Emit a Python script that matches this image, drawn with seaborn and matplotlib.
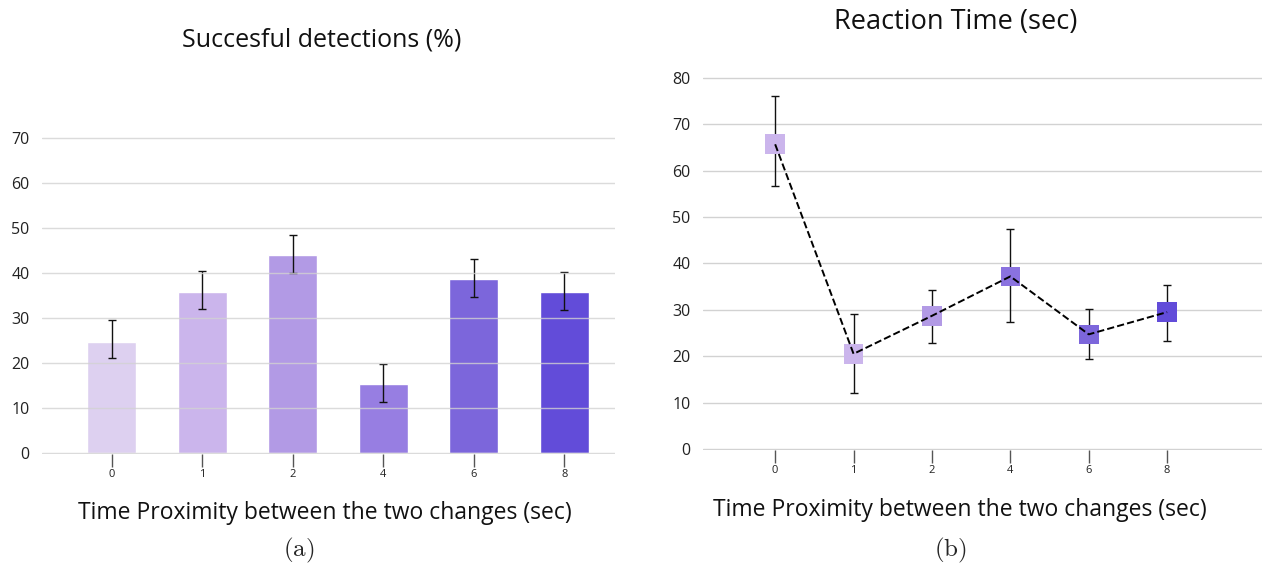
import numpy as np
import pandas as pd
import seaborn as sns
import matplotlib.pyplot as plt

# data
proximity = ['0', '1', '2', '4', '6', '8']
detect_pct = [24.7, 35.8, 44.0, 15.3, 38.6, 35.8]
detect_lo = [21.0, 32.0, 40.0, 11.2, 34.7, 31.8]
detect_hi = [29.5, 40.5, 48.5, 19.8, 43.2, 40.2]

react_sec = [65.7, 20.5, 28.7, 37.2, 24.7, 29.5]
react_lo = [56.7, 12.0, 22.8, 27.3, 19.3, 23.3]
react_hi = [76.2, 29.0, 34.3, 47.4, 30.1, 35.4]

bar_colors = ['#ddd0f0', '#cbb5ec', '#b29ae5', '#977ee2', '#7c66db', '#624cd9']
point_colors = ['#cbb5ec', '#cbb5ec', '#b29ae5', '#8a72df', '#7c66db', '#624cd9']

sns.set_theme(style='white')
plt.rcParams['font.family'] = ['Open Sans', 'DejaVu Sans']
plt.rcParams['mathtext.fontset'] = 'cm'

fig = plt.figure(figsize=(12.64, 5.67), dpi=100)
ax1 = fig.add_axes([0.0332, 0.1993, 0.4533, 0.597])
ax2 = fig.add_axes([0.5562, 0.2063, 0.4422, 0.6725])

df_a = pd.DataFrame({'prox': proximity, 'pct': detect_pct})
df_b = pd.DataFrame({'prox': proximity, 'sec': react_sec, 'pos': np.arange(len(proximity))})


def style_axis(ax, yticks, xlab_x, xlab_y):
    for s in ax.spines.values():
        s.set_visible(False)
    ax.set_yticks(yticks)
    ax.yaxis.grid(True, color='#d2d2d2', linewidth=1.0)
    ax.xaxis.grid(False)
    ax.tick_params(axis='y', length=0, labelsize=11.5, pad=9, labelcolor='#222222')
    ax.tick_params(axis='x', length=9, width=1, color='#555555', labelsize=8,
                   bottom=True, pad=2, labelcolor='#222222')
    ax.set_xlabel('Time Proximity between the two changes (sec)', fontsize=16.5,
                  color='#111111')
    ax.xaxis.set_label_coords(xlab_x, xlab_y)
    ax.set_ylabel('')


# (a) successful detections
sns.barplot(data=df_a, x='prox', y='pct', hue='prox', palette=bar_colors,
            width=0.54, legend=False, ax=ax1, saturation=1)
ax1.errorbar(np.arange(len(proximity)), detect_pct,
             yerr=[np.array(detect_pct) - np.array(detect_lo),
                   np.array(detect_hi) - np.array(detect_pct)],
             fmt='none', ecolor='#111111', elinewidth=1, capsize=3, capthick=1)
ax1.set_xlim(-0.77, 5.56)
ax1.set_ylim(-0.25, 75)
style_axis(ax1, range(0, 71, 10), 0.4935, -0.14)
ax1.set_axisbelow(False)
for gl in ax1.get_ygridlines():
    gl.set_alpha(0.8)

# (b) reaction time
ax2.errorbar(df_b['pos'], react_sec,
             yerr=[np.array(react_sec) - np.array(react_lo),
                   np.array(react_hi) - np.array(react_sec)],
             fmt='none', ecolor='#111111', elinewidth=1, capsize=3, capthick=1, zorder=2)
sns.scatterplot(data=df_b, x='pos', y='sec', hue='prox', palette=point_colors,
                marker='s', s=200, linewidth=0, legend=False, ax=ax2, zorder=3)
sns.lineplot(data=df_b, x='pos', y='sec', color='black', linestyle='--',
             linewidth=1.4, ax=ax2, zorder=4)
ax2.set_xticks(range(len(proximity)))
ax2.set_xticklabels(proximity)
ax2.set_xlim(-0.92, 6.21)
ax2.set_ylim(-0.25, 82)
style_axis(ax2, range(0, 81, 10), 0.4597, -0.126)
ax2.set_axisbelow(True)

fig.text(0.2547, 0.9295, 'Succesful detections (%)', ha='center', va='center',
         fontsize=18, color='#111111')
fig.text(0.756, 0.961, 'Reaction Time (sec)', ha='center', va='center',
         fontsize=19.5, color='#111111')
fig.text(0.236, 0.03, r'$\mathrm{(a)}$', ha='center', va='center', fontsize=18)
fig.text(0.752, 0.03, r'$\mathrm{(b)}$', ha='center', va='center', fontsize=18)

fig.savefig('out.png', dpi=100)
